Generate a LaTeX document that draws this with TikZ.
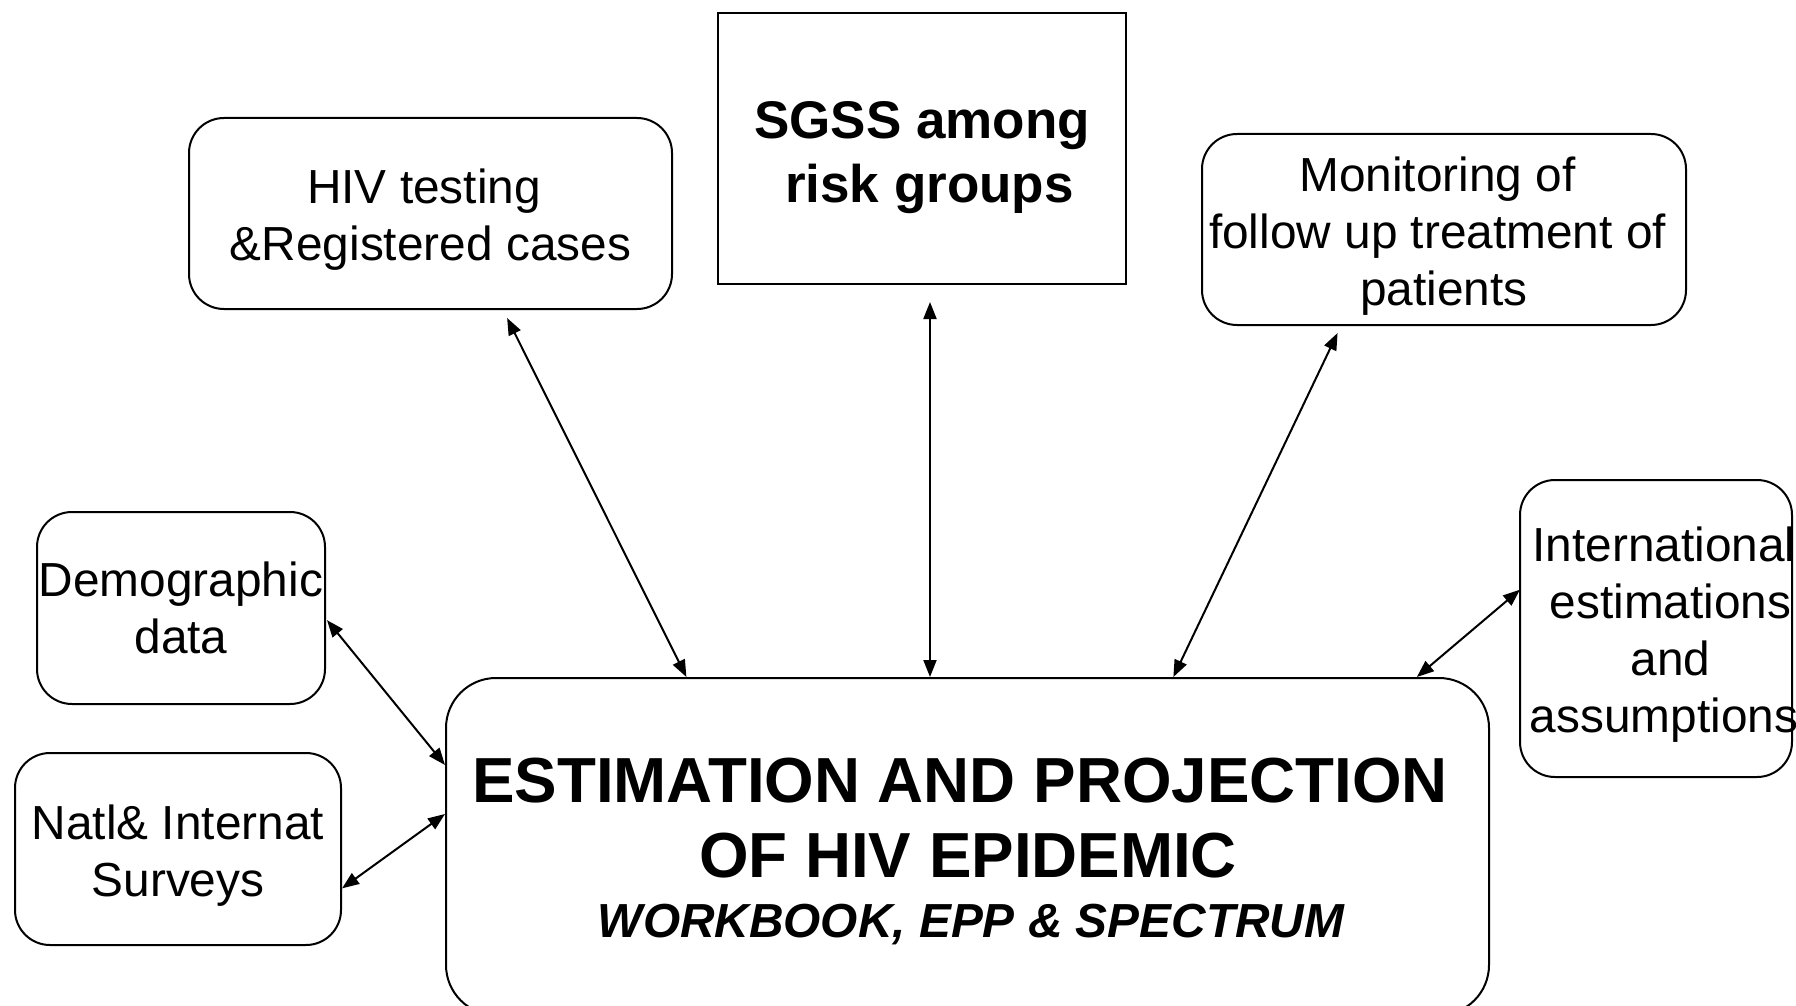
\documentclass[tikz,border=0pt]{standalone}
\usepackage{fontspec}
\setmainfont{Liberation Sans}
\usetikzlibrary{arrows.meta,calc}
\newcommand{\gapsp}[1]{\rule{#1}{0pt}}
\begin{document}
\begin{tikzpicture}[x=1pt,y=-1pt,
  box/.style={draw, line width=2pt, rounded corners=35pt, align=center, inner sep=0pt,
    font=\fontsize{47.8}{57}\selectfont},
  txt/.style={align=center, inner sep=0pt, font=\fontsize{47.8}{57}\selectfont},
  link/.style={{Triangle[length=17pt,width=13pt]}-{Triangle[length=17pt,width=13pt]}, line width=2pt},
  maintxt/.style={anchor=base, inner sep=0pt}]
\path[use as bounding box] (0,0) rectangle (1796,1006);
\clip (0,0) rectangle (1796,1006);

\node[box, minimum width=483, minimum height=191] (hiv) at (430.5,213.5)
  {\rule{0pt}{46pt}HIV testing\gapsp{13pt}\\\&Registered cases};
\node[box, sharp corners, minimum width=408, minimum height=271,
  font=\fontsize{53}{64}\selectfont\bfseries] (sgss) at (922,148.5)
  {\rule{0pt}{55pt}SGSS among\\\gapsp{14.7pt}risk groups};
\node[box, minimum width=484, minimum height=191] (mon) at (1444,229.5)
  {\rule{0pt}{48pt}Monitoring of\gapsp{13pt}\\follow up treatment of\gapsp{13pt}\\patients};
\node[box, minimum width=288, minimum height=192] (demo) at (181,608) {Demographic\\data};
\node[box, minimum width=326, minimum height=192] (natl) at (178,849)
  {\rule{0pt}{47pt}Natl\& Internat\\Surveys};
\node[box, minimum width=272, minimum height=297] (intl) at (1656,628.5) {};
\node[txt] (intltxt) at (1664,634.5)
  {International\\\gapsp{13pt}estimations\\\gapsp{13pt}and\\assumptions};
\node[draw, line width=2pt, rounded corners=50pt, minimum width=1043, minimum height=337] (main) at (967.5,846.5) {};

\node[maintxt, font=\fontsize{63.7}{76}\selectfont\bfseries] (t1) at (960,802) {ESTIMATION AND PROJECTION};
\node[maintxt, font=\fontsize{63.7}{76}\selectfont\bfseries] (t2) at (968,877) {OF HIV EPIDEMIC};
\node[maintxt, font=\fontsize{47.8}{57}\selectfont\bfseries\itshape] (t3) at (971,937) {WORKBOOK, EPP \& SPECTRUM};

\draw[link] ($(hiv.south west)!0.658!(hiv.south east)+(0,8)$) -- ($(main.north west)!0.231!(main.north east)$);
\draw[link] ($(sgss.south)+(8,17)$) -- ($(sgss.south |- main.north)+(8,0)$);
\draw[link] ($(mon.south west)!0.281!(mon.south east)+(0,7)$) -- ($(main.north west)!0.697!(main.north east)$);
\draw[link] ($(intl.north west)!0.37!(intl.south west)+(1,0)$) -- ($(main.north west)!0.930!(main.north east)$);
\draw[link] ($(demo.north east)!0.5625!(demo.south east)+(1,0)$) -- ($(main.north west)+(0,88)$);
\draw[link] ($(natl.north east)!0.703!(natl.south east)$) -- ($(main.north west)+(0,137)$);
\end{tikzpicture}
\end{document}
